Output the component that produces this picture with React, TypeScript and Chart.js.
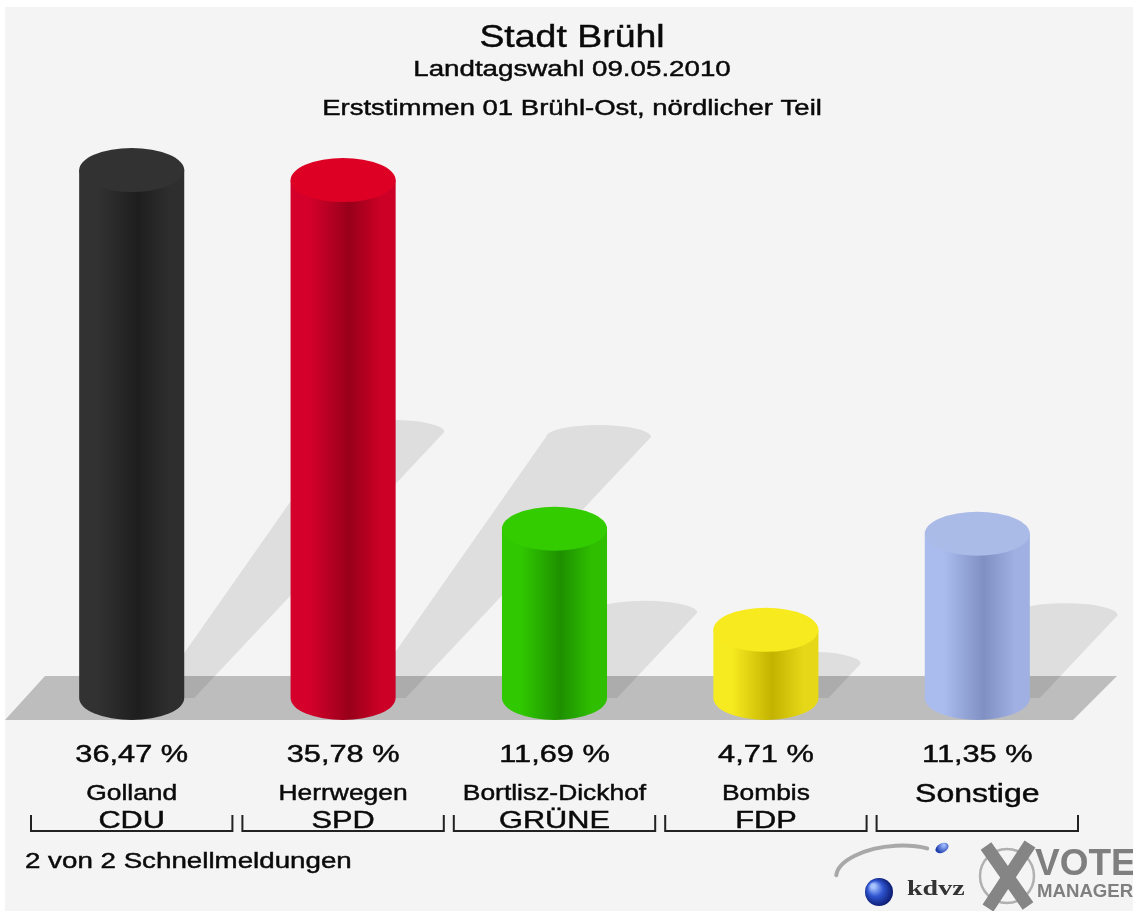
import React, { useEffect, useRef } from 'react';
import { Chart, registerables } from 'chart.js';

Chart.register(...registerables);

// ---- data ----
const categories = ['CDU', 'SPD', 'GRÜNE', 'FDP', 'Sonstige'];
const candidates = ['Golland', 'Herrwegen', 'Bortlisz-Dickhof', 'Bombis', 'Sonstige'];
const partyLabels = ['CDU', 'SPD', 'GRÜNE', 'FDP', ''];
const shares = [36.47, 35.78, 11.69, 4.71, 11.35];

const sideLight = ['#323232', '#d4002b', '#30c800', '#f6ea20', '#aabbee'];
const sideDark = ['#1e1e1e', '#98001a', '#1e9000', '#c4b200', '#8090c2'];
const sideRight = ['#2e2e2e', '#cc0026', '#2fbf00', '#e6d818', '#a0b0e2'];
const topColors = ['#323232', '#de0024', '#33cc00', '#f7ea1e', '#abbbe8'];

const titleText = 'Stadt Brühl';
const subtitle1 = 'Landtagswahl 09.05.2010';
const subtitle2 = 'Erststimmen 01 Brühl-Ost, nördlicher Teil';
const footerText = '2 von 2 Schnellmeldungen';

const FONT = '"Liberation Sans", Arial, sans-serif';
const TEXT_COLOR = '#0a0a0a';
const ELL = 22;

function drawText(
  ctx: CanvasRenderingContext2D,
  s: string,
  x: number,
  y: number,
  size: number,
  sx: number,
  align: CanvasTextAlign = 'center',
  color = TEXT_COLOR,
  weight = 'normal',
  family = FONT,
  stroke = 0.45
) {
  ctx.save();
  ctx.translate(x, y);
  ctx.scale(sx, 1);
  ctx.font = `${weight} ${size}px ${family}`;
  ctx.textAlign = align;
  ctx.textBaseline = 'alphabetic';
  ctx.fillStyle = color;
  ctx.fillText(s, 0, 0);
  if (stroke > 0) {
    ctx.strokeStyle = color;
    ctx.lineWidth = stroke;
    ctx.strokeText(s, 0, 0);
  }
  ctx.restore();
}

const formatShare = (v: number) => v.toFixed(2).replace('.', ',') + ' %';

const cylinderPlugin = {
  id: 'cylinders',
  beforeDraw(chart: any) {
    const ctx: CanvasRenderingContext2D = chart.ctx;
    ctx.save();
    ctx.fillStyle = '#ffffff';
    ctx.fillRect(0, 0, chart.width, chart.height);
    ctx.fillStyle = '#f4f4f4';
    ctx.fillRect(5, 7, chart.width - 5, chart.height - 7);
    ctx.restore();
  },
  beforeDatasetsDraw(chart: any) {
    const ctx: CanvasRenderingContext2D = chart.ctx;
    const base = chart.scales.y.getPixelForValue(0);
    // floor
    ctx.save();
    ctx.fillStyle = '#bdbdbd';
    ctx.beginPath();
    ctx.moveTo(45, base - ELL);
    ctx.lineTo(1117, base - ELL);
    ctx.lineTo(1073, base + ELL);
    ctx.lineTo(5, base + ELL);
    ctx.closePath();
    ctx.fill();
    // shadows
    const meta = chart.getDatasetMeta(0);
    meta.data.forEach((el: any) => {
      const p = el.getProps(['x', 'y', 'base', 'width'], true);
      const r = p.width / 2;
      const h = p.base - p.y;
      const dy = 0.504 * h;
      const m = 10;
      const s = 0.94;
      const k = Math.min(1.4 * r, 0.14 * h);
      const topY = p.base - dy;
      const tl = p.x - r + m + s * dy;
      const tr = p.x + r + m + s * dy;
      ctx.fillStyle = 'rgba(0,0,0,0.09)';
      ctx.beginPath();
      ctx.moveTo(p.x - r + k, p.base);
      ctx.lineTo(tl, topY);
      ctx.ellipse((tl + tr) / 2, topY, (tr - tl) / 2, 12, 0, Math.PI, 2 * Math.PI, false);
      ctx.lineTo(p.x + r + m, p.base);
      ctx.closePath();
      ctx.fill();
    });
    ctx.restore();
  },
  afterDatasetsDraw(chart: any) {
    const ctx: CanvasRenderingContext2D = chart.ctx;
    const meta = chart.getDatasetMeta(0);
    meta.data.forEach((el: any, i: number) => {
      const p = el.getProps(['x', 'y', 'base', 'width'], true);
      const r = p.width / 2;
      const g = ctx.createLinearGradient(p.x - r, 0, p.x + r, 0);
      g.addColorStop(0, sideLight[i]);
      g.addColorStop(0.18, sideLight[i]);
      g.addColorStop(0.56, sideDark[i]);
      g.addColorStop(0.86, sideRight[i]);
      g.addColorStop(1, sideRight[i]);
      ctx.save();
      ctx.fillStyle = g;
      ctx.beginPath();
      ctx.moveTo(p.x - r, p.y);
      ctx.lineTo(p.x - r, p.base);
      ctx.ellipse(p.x, p.base, r, ELL, 0, Math.PI, 0, true);
      ctx.lineTo(p.x + r, p.y);
      ctx.closePath();
      ctx.fill();
      ctx.fillStyle = topColors[i];
      ctx.beginPath();
      ctx.ellipse(p.x, p.y, r, ELL, 0, 0, 2 * Math.PI);
      ctx.fill();
      ctx.restore();
    });
  },
  afterDraw(chart: any) {
    const ctx: CanvasRenderingContext2D = chart.ctx;
    const xs = chart.scales.x;
    const cx = 572;
    drawText(ctx, titleText, cx, 47, 32, 1.17);
    drawText(ctx, subtitle1, cx, 76, 22, 1.26);
    drawText(ctx, subtitle2, cx, 115, 22, 1.25);

    const catW = (xs.right - xs.left) / categories.length;
    categories.forEach((_, i) => {
      const x = xs.getPixelForValue(i);
      drawText(ctx, formatShare(shares[i]), x, 762, 24, 1.28);
      if (partyLabels[i]) {
        drawText(ctx, candidates[i], x, 800, 22, 1.2);
        drawText(ctx, partyLabels[i], x, 828, 24, 1.28);
      } else {
        drawText(ctx, candidates[i], x, 802, 25, 1.28);
      }
      // bracket
      const l = x - catW / 2 + 5;
      const rr = x + catW / 2 - 5;
      ctx.save();
      ctx.strokeStyle = '#222222';
      ctx.lineWidth = 2;
      ctx.beginPath();
      ctx.moveTo(l, 815);
      ctx.lineTo(l, 831);
      ctx.lineTo(rr, 831);
      ctx.lineTo(rr, 815);
      ctx.stroke();
      ctx.restore();
    });

    drawText(ctx, footerText, 25, 868, 22, 1.26, 'left');

    // logo: kdvz
    ctx.save();
    ctx.strokeStyle = '#a8a8a8';
    ctx.lineWidth = 4;
    ctx.lineCap = 'round';
    ctx.beginPath();
    ctx.ellipse(893, 872, 57, 26, -0.1, Math.PI * 1.03, Math.PI * 1.72, false);
    ctx.stroke();
    const sg = ctx.createRadialGradient(873, 886, 2, 878, 892, 15);
    sg.addColorStop(0, '#a8c4ff');
    sg.addColorStop(0.45, '#2f55d0');
    sg.addColorStop(1, '#0b1a6e');
    ctx.fillStyle = sg;
    ctx.beginPath();
    ctx.arc(879, 892, 14, 0, Math.PI * 2);
    ctx.fill();
    const dg = ctx.createRadialGradient(944, 845, 1, 943, 847, 7);
    dg.addColorStop(0, '#9db8ff');
    dg.addColorStop(1, '#1a3aa8');
    ctx.fillStyle = dg;
    ctx.beginPath();
    ctx.ellipse(942, 848, 7, 4.5, -0.5, 0, Math.PI * 2);
    ctx.fill();
    ctx.restore();
    drawText(ctx, 'kdvz', 907, 895, 20, 1.4, 'left', '#333333', 'bold', '"Liberation Serif", serif', 0);

    // logo: X + VOTE MANAGER
    ctx.save();
    ctx.strokeStyle = '#b0b0b0';
    ctx.lineWidth = 2.5;
    ctx.beginPath();
    ctx.arc(1007, 876, 27, 0, Math.PI * 2);
    ctx.stroke();
    ctx.strokeStyle = '#858585';
    ctx.lineWidth = 13;
    ctx.lineCap = 'butt';
    ctx.beginPath();
    ctx.moveTo(986, 846);
    ctx.lineTo(1028, 906);
    ctx.moveTo(1030, 844);
    ctx.lineTo(988, 908);
    ctx.stroke();
    ctx.restore();
    drawText(ctx, 'VOTE', 1035, 875, 37, 1, 'left', '#7f7f7f', 'bold', FONT, 0);
    drawText(ctx, 'MANAGER', 1037, 897, 19, 0.98, 'left', '#7f7f7f', 'bold', FONT, 0);
  },
};

export default function App() {
  const ref = useRef<HTMLCanvasElement | null>(null);
  useEffect(() => {
    document.body.style.margin = '0';
    if (!ref.current) return;
    const chart = new Chart(ref.current, {
      type: 'bar',
      data: {
        labels: categories,
        datasets: [
          {
            data: shares,
            backgroundColor: 'rgba(0,0,0,0)',
            borderWidth: 0,
            barPercentage: 0.497,
            categoryPercentage: 1,
          },
        ],
      },
      options: {
        responsive: false,
        animation: false,
        devicePixelRatio: 1,
        layout: { padding: { left: 26, right: 50, top: 119, bottom: 213 } },
        plugins: {
          legend: { display: false },
          tooltip: { enabled: false },
          title: { display: false },
        },
        scales: {
          x: { display: false, offset: true },
          y: { display: false, min: 0, max: 40 },
        },
      },
      plugins: [cylinderPlugin],
    });
    return () => chart.destroy();
  }, []);
  return (
    <div style={{ width: 1133, height: 911 }}>
      <canvas ref={ref} width={1133} height={911} style={{ display: 'block' }} />
    </div>
  );
}
